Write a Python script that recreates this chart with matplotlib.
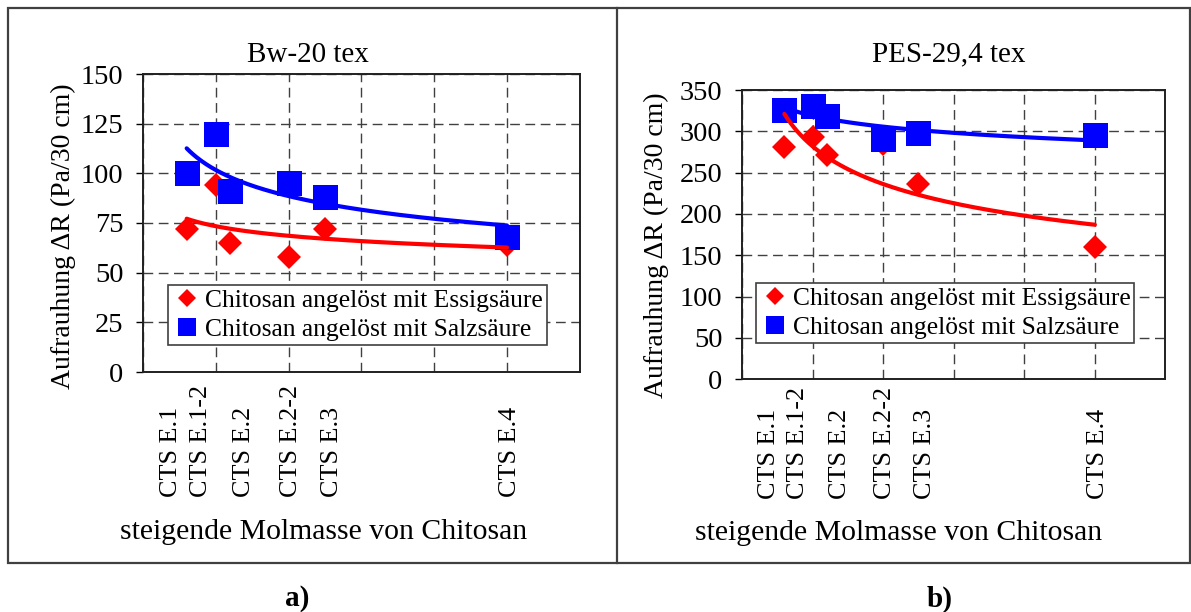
# -*- coding: utf-8 -*-
"""
Aufrauhung von Bw- und PES-Garnen nach Chitosan-Behandlung
"""
import numpy as np
import matplotlib
matplotlib.use("Agg")
import matplotlib.pyplot as plt
import matplotlib.transforms as mtransforms
from matplotlib.lines import Line2D
from matplotlib.patches import Rectangle

plt.rcParams['font.family'] = ['Liberation Serif', 'DejaVu Serif']

# sample names and their position on the x axis (rising molar mass)
samples = ['CTS E.1', 'CTS E.1-2', 'CTS E.2', 'CTS E.2-2', 'CTS E.3', 'CTS E.4']
molmasse = [0.6, 1.0, 1.2, 2.0, 2.5, 5.0]
# where the rotated sample names sit below the axis
sample_label_x = [0.38, 0.8, 1.39, 2.03, 2.59, 5.04]

# Bw-20 tex
bw_essig = [72, 94, 65, 58, 72, 64]
bw_salz = [100, 120, 91, 95, 88, 68]

# PES-29,4 tex
pes_essig = [281, 293, 271, 285, 236, 160]
pes_salz = [326, 331, 318, 291, 298, 296]

label_essig = 'Chitosan angelöst mit Essigsäure'
label_salz = 'Chitosan angelöst mit Salzsäure'

W, H = 1191, 612


def fx(px):
    return px / W


def fy(px):
    return 1 - px / H


def power_trend(x, y):
    '''
        Power trendline y = c * x^d (like Excel)
    '''
    d, lnc = np.polyfit(np.log(x), np.log(y), 1)
    xs = np.linspace(min(x), max(x), 200)
    return xs, np.exp(lnc) * xs ** d


def draw_panel(fig, ax, essig, salz, ymax, ystep, leg_xy, label_y):
    ax.plot(molmasse, essig, 'D', color='red', ms=12.5, mew=0, zorder=3,
            label=label_essig)
    ax.plot(molmasse, salz, 's', color='blue', ms=18, mew=0, zorder=3,
            label=label_salz)
    for vals, col in ((essig, 'red'), (salz, 'blue')):
        xs, ys = power_trend(molmasse, vals)
        ax.plot(xs, ys, color=col, lw=3, solid_capstyle='round', zorder=4)

    ax.set_xlim(0, 6)
    ax.set_ylim(0, ymax)
    ax.set_xticks(range(7))
    ax.set_xticklabels([])
    ax.set_yticks(np.arange(0, ymax + 1, ystep))
    ax.tick_params(axis='x', length=0)
    ax.tick_params(axis='y', direction='out', length=5.3, width=1,
                   labelsize=20.5, pad=8.8)
    ax.grid(True, color='#404040', lw=1, ls=(0, (7, 4)))
    for s in ax.spines.values():
        s.set_linewidth(1.4)
        s.set_color('#202020')

    leg = ax.legend(loc='upper left', bbox_to_anchor=leg_xy,
                    bbox_transform=fig.transFigure, borderaxespad=0,
                    fontsize=18.4, markerscale=0.7, handlelength=1.2,
                    handletextpad=0.1, borderpad=0.15, labelspacing=0.25,
                    fancybox=False, edgecolor='#404040', framealpha=1)
    leg.get_frame().set_linewidth(1.2)

    trans = mtransforms.blended_transform_factory(ax.transData,
                                                  fig.transFigure)
    for name, xpos in zip(samples, sample_label_x):
        ax.text(xpos, label_y, name, rotation=90, ha='center', va='bottom',
                fontsize=18.8, transform=trans)


fig = plt.figure(figsize=(W / 100, H / 100), dpi=100)

ax1 = fig.add_axes([fx(143), fy(372), fx(579.8 - 143), (372 - 74) / H])
ax2 = fig.add_axes([fx(742), fy(379.3), fx(1165.4 - 742),
                    (379.3 - 90) / H])

draw_panel(fig, ax1, bw_essig, bw_salz, 150, 25,
           (fx(168.3), fy(285)), fy(497))
draw_panel(fig, ax2, pes_essig, pes_salz, 350, 50,
           (fx(755.7), fy(283)), fy(499))

# titles and axis texts
fig.text(fx(308), fy(55), 'Bw-20 tex', ha='center', va='center', fontsize=21)
fig.text(fx(949), fy(54), 'PES-29,4 tex', ha='center', va='center',
         fontsize=21)
ylab = 'Aufrauhung ΔR (Pa/30 cm)'
fig.text(fx(63), fy(236), ylab, rotation=90, ha='center', va='center',
         fontsize=20)
fig.text(fx(656.5), fy(245.5), ylab, rotation=90, ha='center', va='center',
         fontsize=20)
xlab = 'steigende Molmasse von Chitosan'
fig.text(fx(323.6), fy(532), xlab, ha='center', va='center', fontsize=21.4)
fig.text(fx(898.3), fy(533), xlab, ha='center', va='center', fontsize=21.4)
fig.text(fx(297.5), fy(599), 'a)', ha='center', va='center', fontsize=21,
         fontweight='bold')
fig.text(fx(940), fy(599), 'b)', ha='center', va='center', fontsize=21,
         fontweight='bold')

# outer frame with divider
fig.add_artist(Rectangle((fx(7.5), fy(563)), fx(1190 - 7.5), (563 - 8.3) / H,
                         transform=fig.transFigure, fill=False,
                         edgecolor='#404040', lw=1.6))
fig.add_artist(Line2D([fx(617), fx(617)], [fy(563), fy(8.3)],
                      transform=fig.transFigure, color='#404040', lw=1.6))

fig.savefig('out.png', dpi=100)
